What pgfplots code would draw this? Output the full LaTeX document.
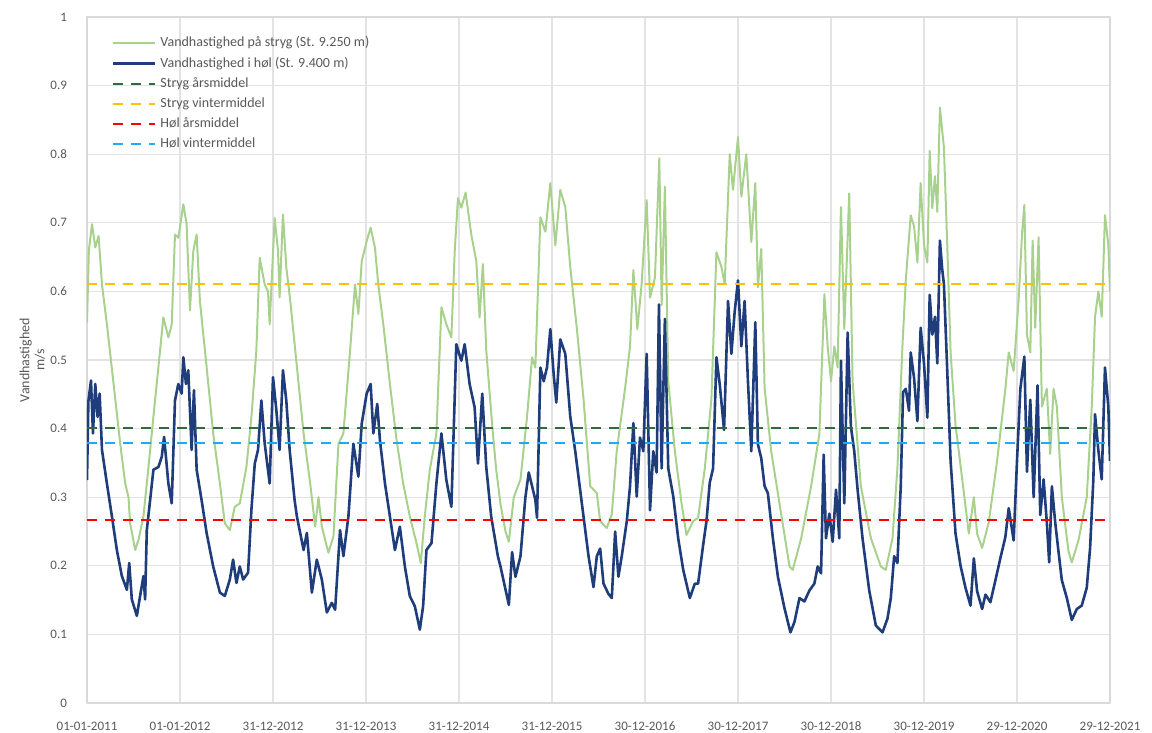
\documentclass[border=0pt]{standalone}
\usepackage{pgfplots}
\pgfplotsset{compat=1.18}
\usepackage{fontspec}
\setmainfont{Carlito}
\definecolor{strygc}{HTML}{A9D18E}
\definecolor{holc}{HTML}{1F3C7B}
\definecolor{dgreen}{HTML}{2F6B3F}
\definecolor{yel}{HTML}{FFC000}
\definecolor{redc}{HTML}{FF0000}
\definecolor{lblue}{HTML}{22A7F0}
\definecolor{txt}{HTML}{595959}
\begin{document}
\begin{tikzpicture}
\begin{axis}[
  at={(0,0)}, anchor=south west,
  scale only axis, width=511.5pt, height=343pt,
  xmin=0, xmax=11, ymin=0, ymax=1,
  xtick={0,1,2,3,4,5,6,7,8,9,10,11},
  xticklabels={01-01-2011,01-01-2012,31-12-2012,31-12-2013,31-12-2014,31-12-2015,30-12-2016,30-12-2017,30-12-2018,30-12-2019,29-12-2020,29-12-2021},
  ytick={0,0.1,0.2,0.3,0.4,0.5,0.6,0.7,0.8,0.9,1},
  /pgf/number format/assume math mode=true,
  ticklabel style={font=\fontsize{6.5}{8}\selectfont, text=txt},
  yticklabel style={xshift=-6.5pt},
  xticklabel style={yshift=-6pt},
  major tick length=0pt,
  grid=major,
  major grid style={draw=gray!22, line width=0.6pt},
  axis line style={draw=gray!30, line width=0.6pt},
  ylabel={Vandhastighed\\m/s},
  ylabel style={at={(axis description cs:-0.0535,0.5)}, anchor=center, align=center, font=\fontsize{7}{7.5}\selectfont, text=txt},
  legend style={at={(rel axis cs:0.018,0.984)}, anchor=north west, draw=none, fill=none,
    font=\fontsize{7}{8}\selectfont, text=txt, row sep=-0.4pt, legend cell align=left},
  legend image code/.code={\draw[#1] (0pt,0pt) -- (21pt,0pt);},
  line join=round,
]
\addplot[color=strygc, line width=1pt] coordinates {
(0,0.555) (0.02,0.66) (0.054,0.698) (0.089,0.664) (0.125,0.681) (0.161,0.61) (0.214,0.552) (0.286,0.465) (0.357,0.378) (0.411,0.32) (0.446,0.30) (0.464,0.262) (0.518,0.223) (0.554,0.238) (0.607,0.272) (0.661,0.344) (0.714,0.417) (0.768,0.49) (0.821,0.562) (0.875,0.533) (0.911,0.552) (0.946,0.683) (0.982,0.678) (1.036,0.727) (1.071,0.698) (1.107,0.572) (1.143,0.659) (1.179,0.683) (1.214,0.586) (1.286,0.49) (1.357,0.393) (1.429,0.32) (1.482,0.262) (1.536,0.252) (1.589,0.286) (1.643,0.291) (1.714,0.344) (1.768,0.417) (1.821,0.514) (1.857,0.649) (1.911,0.61) (1.946,0.60) (1.964,0.552) (2.018,0.707) (2.054,0.659) (2.071,0.591) (2.107,0.712) (2.143,0.635)
(2.186,0.586) (2.257,0.49) (2.329,0.393) (2.4,0.32) (2.454,0.257) (2.489,0.30) (2.525,0.257) (2.596,0.219) (2.65,0.243) (2.704,0.378) (2.757,0.393) (2.829,0.514) (2.882,0.61) (2.918,0.567) (2.954,0.644) (3.007,0.673) (3.05,0.693) (3.096,0.664) (3.132,0.61) (3.186,0.552) (3.257,0.465) (3.329,0.383) (3.4,0.32) (3.471,0.272) (3.543,0.233) (3.589,0.204) (3.632,0.272) (3.686,0.34) (3.757,0.393) (3.811,0.577) (3.864,0.552) (3.918,0.533) (3.954,0.659) (3.989,0.736) (4.025,0.722) (4.071,0.744) (4.132,0.683) (4.186,0.644) (4.221,0.562) (4.257,0.64) (4.293,0.514) (4.36,0.40) (4.40,0.34) (4.446,0.29) (4.50,0.25) (4.536,0.235)
(4.589,0.30) (4.661,0.326) (4.732,0.418) (4.786,0.504) (4.821,0.489) (4.875,0.708) (4.929,0.687) (4.982,0.758) (5.036,0.667) (5.089,0.748) (5.143,0.723) (5.196,0.636) (5.268,0.545) (5.339,0.443) (5.411,0.316) (5.482,0.306) (5.518,0.265) (5.589,0.255) (5.643,0.275) (5.696,0.367) (5.786,0.459) (5.839,0.52) (5.875,0.631) (5.918,0.545) (5.964,0.611) (6.018,0.733) (6.054,0.591) (6.107,0.62) (6.154,0.794) (6.179,0.58) (6.214,0.753) (6.25,0.469) (6.321,0.367) (6.393,0.291) (6.446,0.245) (6.518,0.265)
(6.571,0.27) (6.643,0.342) (6.714,0.443) (6.768,0.657) (6.821,0.636) (6.857,0.611) (6.911,0.80) (6.946,0.748) (7.0,0.825) (7.036,0.738) (7.089,0.80) (7.143,0.672) (7.186,0.758) (7.214,0.606) (7.25,0.662) (7.286,0.459) (7.357,0.367) (7.446,0.291) (7.554,0.199) (7.589,0.194) (7.679,0.24) (7.786,0.316) (7.875,0.392) (7.929,0.596) (7.964,0.52) (8.0,0.469) (8.036,0.52) (8.071,0.489) (8.107,0.723) (8.143,0.545) (8.196,0.743) (8.232,0.469) (8.321,0.316) (8.429,0.24) (8.536,0.199) (8.589,0.194) (8.661,0.24) (8.714,0.342) (8.768,0.52)
(8.804,0.616) (8.857,0.711) (8.893,0.695) (8.929,0.642) (8.964,0.758) (9.0,0.668) (9.036,0.642) (9.061,0.805) (9.089,0.721) (9.118,0.768) (9.143,0.716) (9.171,0.868) (9.214,0.81) (9.25,0.668) (9.286,0.511) (9.339,0.405) (9.411,0.326) (9.482,0.247) (9.536,0.30) (9.571,0.247) (9.625,0.226) (9.696,0.263) (9.786,0.353) (9.875,0.458) (9.911,0.511) (9.964,0.484) (10.018,0.589) (10.054,0.684) (10.079,0.726) (10.107,0.537) (10.143,0.511) (10.168,0.674) (10.196,0.547) (10.232,0.679) (10.268,0.432) (10.321,0.458) (10.357,0.363) (10.393,0.458) (10.429,0.432) (10.482,0.30) (10.554,0.221) (10.589,0.205) (10.661,0.237) (10.75,0.30) (10.804,0.432) (10.839,0.563) (10.875,0.60) (10.911,0.563) (10.946,0.711) (10.982,0.668) (11.0,0.60)
};
\addlegendentry{Vandhastighed på stryg (St. 9.250 m)}
\addplot[color=holc, line width=1.3pt] coordinates {
(0,0.325) (0.015,0.44) (0.043,0.47) (0.064,0.393) (0.089,0.465) (0.114,0.417) (0.136,0.451) (0.161,0.369) (0.214,0.32) (0.268,0.272) (0.321,0.223) (0.375,0.185) (0.429,0.165) (0.454,0.204) (0.482,0.151) (0.536,0.127) (0.571,0.156) (0.607,0.185) (0.625,0.151) (0.643,0.252) (0.679,0.296) (0.714,0.34) (0.768,0.344) (0.804,0.359) (0.829,0.388) (0.875,0.32) (0.911,0.291) (0.946,0.441) (0.982,0.465) (1.018,0.451) (1.036,0.504) (1.064,0.465) (1.089,0.485) (1.125,0.369) (1.15,0.456) (1.179,0.34) (1.232,0.296) (1.286,0.248) (1.357,0.199) (1.429,0.161) (1.482,0.156) (1.536,0.18) (1.571,0.209) (1.607,0.175) (1.643,0.199) (1.679,0.18) (1.732,0.19) (1.768,0.282) (1.804,0.349) (1.839,0.369) (1.875,0.441) (1.911,0.378) (1.964,0.32) (2.0,0.475) (2.036,0.427) (2.071,0.369) (2.107,0.485) (2.143,0.441) (2.179,0.369)
(2.232,0.296) (2.257,0.272) (2.329,0.223) (2.364,0.248) (2.418,0.161) (2.471,0.209) (2.525,0.18) (2.579,0.132) (2.632,0.146) (2.668,0.136) (2.721,0.252) (2.757,0.214) (2.811,0.272) (2.864,0.378) (2.918,0.33) (2.954,0.407) (3.007,0.451) (3.05,0.465) (3.079,0.393) (3.121,0.436) (3.15,0.383) (3.204,0.32) (3.257,0.272) (3.311,0.223) (3.364,0.257) (3.418,0.199) (3.471,0.156) (3.525,0.141) (3.579,0.107) (3.614,0.141) (3.65,0.223) (3.704,0.233) (3.757,0.32) (3.811,0.393) (3.864,0.325) (3.918,0.286) (3.954,0.446) (3.971,0.523) (4.025,0.499) (4.061,0.523) (4.114,0.465) (4.168,0.431) (4.204,0.349) (4.25,0.451) (4.293,0.344) (4.346,0.272) (4.418,0.214)
(4.446,0.199) (4.536,0.143) (4.571,0.22) (4.607,0.184) (4.661,0.214) (4.714,0.30) (4.75,0.336) (4.786,0.316) (4.821,0.296) (4.839,0.27) (4.875,0.489) (4.911,0.469) (4.946,0.489) (4.982,0.545) (5.018,0.479) (5.046,0.438) (5.089,0.53) (5.143,0.509) (5.196,0.418) (5.25,0.367) (5.321,0.291) (5.393,0.214) (5.446,0.169) (5.482,0.214) (5.518,0.225) (5.554,0.174) (5.607,0.159) (5.643,0.153) (5.679,0.25) (5.714,0.184) (5.75,0.214) (5.804,0.265) (5.839,0.316) (5.875,0.408) (5.911,0.301) (5.946,0.387) (5.982,0.367) (6.018,0.509) (6.054,0.281) (6.089,0.367) (6.125,0.336) (6.15,0.581) (6.179,0.342) (6.214,0.56) (6.25,0.342) (6.304,0.301) (6.357,0.24) (6.411,0.194) (6.482,0.153) (6.536,0.174)
(6.571,0.174) (6.625,0.23) (6.661,0.265) (6.696,0.321) (6.732,0.342) (6.768,0.504) (6.804,0.464) (6.85,0.398) (6.893,0.586) (6.929,0.509) (6.964,0.57) (7.0,0.616) (7.036,0.52) (7.071,0.586) (7.107,0.469) (7.143,0.367) (7.186,0.555) (7.214,0.377) (7.25,0.357) (7.286,0.316) (7.321,0.306) (7.375,0.24) (7.429,0.184) (7.5,0.138) (7.564,0.103) (7.607,0.118) (7.661,0.153) (7.714,0.148) (7.768,0.164) (7.821,0.174) (7.857,0.199) (7.893,0.189) (7.921,0.362) (7.946,0.24) (7.982,0.276) (8.018,0.235) (8.054,0.311) (8.089,0.24) (8.107,0.499) (8.143,0.291) (8.179,0.54) (8.214,0.403) (8.25,0.367) (8.286,0.311) (8.339,0.24) (8.411,0.164) (8.482,0.113) (8.554,0.103) (8.607,0.123) (8.643,0.153) (8.679,0.214) (8.714,0.204) (8.75,0.316) (8.775,0.453)
(8.804,0.458) (8.839,0.426) (8.857,0.511) (8.893,0.474) (8.929,0.411) (8.964,0.547) (9.0,0.495) (9.036,0.416) (9.061,0.595) (9.089,0.537) (9.118,0.563) (9.143,0.495) (9.171,0.674) (9.196,0.632) (9.214,0.611) (9.25,0.484) (9.286,0.353) (9.339,0.247) (9.393,0.20) (9.446,0.168) (9.5,0.142) (9.536,0.211) (9.571,0.163) (9.625,0.137) (9.661,0.158) (9.714,0.147) (9.768,0.179) (9.821,0.211) (9.875,0.242) (9.911,0.284) (9.964,0.237) (10.0,0.353) (10.036,0.458) (10.079,0.505) (10.107,0.337) (10.143,0.442) (10.179,0.30) (10.221,0.463) (10.25,0.274) (10.286,0.326) (10.321,0.263) (10.346,0.205) (10.375,0.316) (10.411,0.263) (10.446,0.221) (10.482,0.179) (10.536,0.153) (10.589,0.121) (10.643,0.137) (10.696,0.142) (10.75,0.168) (10.786,0.226) (10.821,0.326) (10.839,0.421) (10.875,0.368) (10.911,0.326) (10.946,0.489) (10.982,0.432) (11.0,0.353)
};
\addlegendentry{Vandhastighed i høl (St. 9.400 m)}
\addplot[color=dgreen, line width=1.2pt, dash pattern=on 5pt off 4pt] coordinates {(0,0.401) (11,0.401)};
\addlegendentry{Stryg årsmiddel}
\addplot[color=yel, line width=1.2pt, dash pattern=on 5pt off 4pt] coordinates {(0,0.611) (11,0.611)};
\addlegendentry{Stryg vintermiddel}
\addplot[color=redc, line width=1.2pt, dash pattern=on 5pt off 4pt] coordinates {(0,0.267) (11,0.267)};
\addlegendentry{Høl årsmiddel}
\addplot[color=lblue, line width=1.2pt, dash pattern=on 5pt off 4pt] coordinates {(0,0.379) (11,0.379)};
\addlegendentry{Høl vintermiddel}
\end{axis}
\pgfresetboundingbox
\path (-43.5pt,-15pt) rectangle (532.5pt,351.5pt);
\end{tikzpicture}
\end{document}
